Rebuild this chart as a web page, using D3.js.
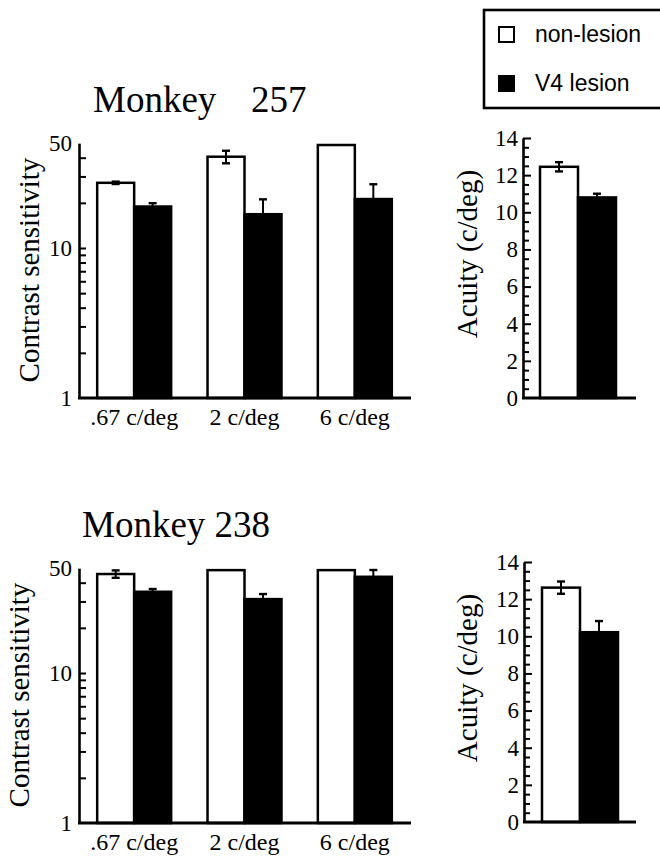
<!DOCTYPE html>
<html>
<head>
<meta charset="utf-8">
<script src="https://cdn.jsdelivr.net/npm/d3@7"></script>
<style>
  html, body { margin: 0; padding: 0; background: #fff; }
  svg { display: block; }
</style>
</head>
<body>
<script>
// Spatial frequencies tested and the two hemifield conditions
const freqLabels = [".67 c/deg", "2 c/deg", "6 c/deg"];
const conditions = ["non-lesion", "V4 lesion"];

// Monkey 257: contrast sensitivity (mean and SE) per spatial frequency
const cs257NonLesion = [27.2, 40.6, 48.6];
const cs257NonLesionErr = [0.5, 3.9, 0];
const cs257Lesion = [18.9, 16.8, 21.2];
const cs257LesionErr = [1.0, 4.3, 5.4];

// Monkey 238: contrast sensitivity
const cs238NonLesion = [45.7, 48.5, 48.5];
const cs238NonLesionErr = [2.6, 0, 0];
const cs238Lesion = [34.8, 31.1, 43.8];
const cs238LesionErr = [1.5, 2.5, 4.8];

// Grating acuity (c/deg): [non-lesion, V4 lesion]
const acuity257 = [12.45, 10.8];
const acuity257Err = [0.25, 0.2];
const acuity238 = [12.62, 10.22];
const acuity238Err = [0.33, 0.6];

// Axis ticks
const csTicks = [1, 2, 3, 4, 5, 6, 7, 8, 9, 10, 20, 30, 40, 50];
const csTickLabels = [1, 10, 50];
const acuityTicks = d3.range(0, 14.01, 0.5);
const acuityTickLabels = [0, 2, 4, 6, 8, 10, 12, 14];

const titles = [
  { name: "Monkey", id: "257", gap: true },
  { name: "Monkey", id: "238", gap: false }
];

const SERIF = '"Liberation Serif", "Times New Roman", serif';
const SANS = '"Liberation Sans", Arial, Helvetica, sans-serif';

const W = 660, H = 856;
const svg = d3.select("body").append("svg").attr("width", W).attr("height", H);

const AX_W = 2.6;
const fill = { "non-lesion": "#fff", "V4 lesion": "#000" };

function errorBar(g, x, yTop, yBot, capW) {
  g.append("line").attr("x1", x).attr("x2", x).attr("y1", yTop).attr("y2", yBot)
    .attr("stroke", "#000").attr("stroke-width", 2);
  [yTop, yBot].forEach(yy => g.append("line")
    .attr("x1", x - capW / 2).attr("x2", x + capW / 2).attr("y1", yy).attr("y2", yy)
    .attr("stroke", "#000").attr("stroke-width", 2.4));
}

function styleTickText(sel, size) {
  sel.style("font-family", SERIF).style("font-size", size + "px").attr("fill", "#000");
}

function contrastPanel(offY, title, nl, nlErr, les, lesErr, labelX) {
  const g = svg.append("g").attr("transform", `translate(0,${offY})`);
  const y = d3.scaleLog().domain([1, 50]).range([398, 398 - 150 * Math.log10(50)]);
  const x = d3.scaleBand().domain(freqLabels).range([79, 410])
    .paddingInner(0.3295).paddingOuter(0.1648);
  const xs = d3.scaleBand().domain(conditions).range([0, x.bandwidth()]);

  const rows = freqLabels.map((f, i) => ({ f, vals: [
    { c: conditions[0], v: nl[i], e: nlErr[i] },
    { c: conditions[1], v: les[i], e: lesErr[i] }
  ]}));

  rows.forEach(r => {
    r.vals.forEach(d => {
      const x0 = x(r.f) + xs(d.c);
      g.append("rect").attr("x", x0).attr("y", y(d.v))
        .attr("width", xs.bandwidth()).attr("height", y(1) - y(d.v))
        .attr("fill", fill[d.c]).attr("stroke", "#000").attr("stroke-width", 2.5);
      if (d.e > 0) errorBar(g, x0 + xs.bandwidth() / 2, y(d.v + d.e), y(d.v - d.e), 8);
    });
  });

  // y axis with inward minor ticks
  const ax = g.append("g").attr("transform", `translate(79,0)`)
    .call(d3.axisLeft(y).tickValues(csTicks).tickSizeInner(-7).tickSizeOuter(0).tickPadding(7)
      .tickFormat(d => csTickLabels.includes(d) ? d3.format("d")(d) : ""));
  ax.select(".domain").attr("stroke-width", AX_W);
  ax.selectAll(".tick line").attr("stroke-width", 2).attr("stroke", d => (d === 50 || d === 1) ? "none" : "#000");
  styleTickText(ax.selectAll(".tick text"), 23);

  // baseline
  g.append("line").attr("x1", 79 - 1).attr("x2", 411).attr("y1", y(1)).attr("y2", y(1))
    .attr("stroke", "#000").attr("stroke-width", 3);

  // category labels
  const xa = g.append("g").attr("transform", `translate(0,${y(1)})`)
    .call(d3.axisBottom(x).tickSize(0).tickPadding(0));
  xa.select(".domain").remove();
  styleTickText(xa.selectAll(".tick text"), 24);
  xa.selectAll(".tick text").attr("dy", 0).attr("y", 27);

  // y title
  g.append("text").style("font-family", SERIF).style("font-size", "29px")
    .attr("text-anchor", "middle")
    .attr("transform", `translate(${labelX},270) rotate(-90)`)
    .text("Contrast sensitivity");

  // panel title
  const t = g.append("text").style("font-family", SERIF).style("font-size", "37px")
    .attr("x", title.gap ? 93 : 82).attr("y", 112);
  t.append("tspan").text(title.name);
  if (title.gap) t.append("tspan").attr("x", 251).text(title.id);
  else t.append("tspan").text(" " + title.id);
}

function acuityPanel(offY, vals, errs, axX, barX0) {
  const g = svg.append("g").attr("transform", `translate(0,${offY})`);
  const y = d3.scaleLinear().domain([0, 14]).range([398, 138]);
  const x = d3.scaleBand().domain(conditions).range([barX0, barX0 + 76]);

  conditions.forEach((c, i) => {
    g.append("rect").attr("x", x(c)).attr("y", y(vals[i]))
      .attr("width", x.bandwidth()).attr("height", y(0) - y(vals[i]))
      .attr("fill", fill[c]).attr("stroke", "#000").attr("stroke-width", 2.5);
    errorBar(g, x(c) + x.bandwidth() / 2, y(vals[i] + errs[i]), y(vals[i] - errs[i]), 8);
  });

  const ax = g.append("g").attr("transform", `translate(${axX},0)`)
    .call(d3.axisLeft(y).tickValues(acuityTicks).tickSizeInner(-6).tickSizeOuter(0).tickPadding(5)
      .tickFormat(d => acuityTickLabels.includes(d) ? d3.format("d")(d) : ""));
  ax.select(".domain").attr("stroke-width", AX_W);
  ax.selectAll(".tick line").attr("stroke-width", 2).attr("stroke", d => d === 0 ? "none" : "#000")
    .attr("x2", d => Number.isInteger(d) && d % 2 === 0 ? 8 : 6);
  styleTickText(ax.selectAll(".tick text"), 23);

  g.append("line").attr("x1", axX - 1).attr("x2", 636).attr("y1", y(0)).attr("y2", y(0))
    .attr("stroke", "#000").attr("stroke-width", 3);

  g.append("text").style("font-family", SERIF).style("font-size", "29px")
    .attr("text-anchor", "middle")
    .attr("transform", `translate(477,254) rotate(-90)`)
    .text("Acuity (c/deg)");
}

contrastPanel(0, titles[0], cs257NonLesion, cs257NonLesionErr, cs257Lesion, cs257LesionErr, 39);
contrastPanel(425, titles[1], cs238NonLesion, cs238NonLesionErr, cs238Lesion, cs238LesionErr, 29);
acuityPanel(0, acuity257, acuity257Err, 523, 540);
acuityPanel(424, acuity238, acuity238Err, 524, 542);

// legend
const lg = svg.append("g");
lg.append("rect").attr("x", 484).attr("y", 10).attr("width", 200).attr("height", 98)
  .attr("fill", "#fff").attr("stroke", "#000").attr("stroke-width", 2.6);
conditions.forEach((c, i) => {
  const yy = 27 + i * 49;
  lg.append("rect").attr("x", 499).attr("y", yy).attr("width", 15).attr("height", 15)
    .attr("fill", fill[c]).attr("stroke", "#000").attr("stroke-width", 2);
  lg.append("text").style("font-family", SANS).style("font-size", "23px")
    .attr("x", 535).attr("y", yy + 15).text(c);
});
</script>
</body>
</html>
